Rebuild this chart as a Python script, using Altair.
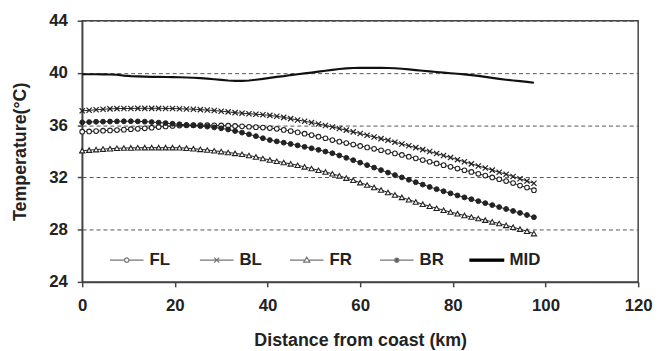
import altair as alt
import pandas as pd

distance_km = [0, 1.5, 3, 4.5, 6, 7.5, 9, 10.5, 12, 13.5, 15, 16.5, 18, 19.5, 21, 22.5,
               24, 25.5, 27, 28.5, 30, 31.5, 33, 34.5, 36, 37.5, 39, 40.5, 42, 43.5, 45,
               46.5, 48, 49.5, 51, 52.5, 54, 55.5, 57, 58.5, 60, 61.5, 63, 64.5, 66, 67.5,
               69, 70.5, 72, 73.5, 75, 76.5, 78, 79.5, 81, 82.5, 84, 85.5, 87, 88.5, 90,
               91.5, 93, 94.5, 96, 97.5]

fl = [35.50, 35.52, 35.55, 35.58, 35.60, 35.63, 35.66, 35.69, 35.72, 35.76, 35.81, 35.86,
      35.90, 35.94, 35.97, 35.99, 36.00, 36.00, 36.00, 35.99, 35.98, 35.96, 35.94, 35.91,
      35.88, 35.85, 35.82, 35.78, 35.72, 35.64, 35.55, 35.45, 35.35, 35.24, 35.12, 35.00,
      34.86, 34.74, 34.63, 34.52, 34.41, 34.30, 34.19, 34.08, 33.96, 33.84, 33.72, 33.59,
      33.46, 33.33, 33.20, 33.07, 32.94, 32.81, 32.68, 32.55, 32.42, 32.28, 32.14, 32.00,
      31.86, 31.72, 31.57, 31.38, 31.22, 31.02]

bl = [37.10, 37.14, 37.18, 37.22, 37.25, 37.27, 37.28, 37.28, 37.29, 37.29, 37.29, 37.29,
      37.28, 37.28, 37.26, 37.24, 37.22, 37.19, 37.16, 37.12, 37.07, 37.02, 36.96, 36.92,
      36.88, 36.84, 36.80, 36.75, 36.68, 36.60, 36.50, 36.40, 36.30, 36.20, 36.09, 35.98,
      35.86, 35.74, 35.62, 35.49, 35.36, 35.23, 35.10, 34.97, 34.84, 34.70, 34.56, 34.42,
      34.28, 34.13, 33.98, 33.83, 33.68, 33.52, 33.36, 33.20, 33.04, 32.88, 32.72, 32.56,
      32.40, 32.24, 32.07, 31.90, 31.72, 31.55]

fr = [34.05, 34.09, 34.13, 34.17, 34.20, 34.23, 34.25, 34.26, 34.27, 34.28, 34.28, 34.28,
      34.28, 34.28, 34.27, 34.24, 34.20, 34.15, 34.10, 34.04, 33.98, 33.91, 33.84, 33.77,
      33.68, 33.57, 33.45, 33.34, 33.24, 33.14, 33.04, 32.93, 32.81, 32.68, 32.55, 32.42,
      32.28, 32.12, 31.95, 31.78, 31.60, 31.42, 31.23, 31.04, 30.85, 30.66, 30.47, 30.29,
      30.12, 29.95, 29.79, 29.64, 29.49, 29.35, 29.22, 29.09, 28.97, 28.85, 28.73, 28.60,
      28.47, 28.33, 28.19, 28.04, 27.88, 27.70]

br = [36.22, 36.24, 36.26, 36.27, 36.28, 36.29, 36.30, 36.30, 36.29, 36.27, 36.24, 36.20,
      36.16, 36.11, 36.07, 36.02, 35.98, 35.93, 35.89, 35.83, 35.76, 35.67, 35.55, 35.43,
      35.30, 35.16, 35.00, 34.86, 34.76, 34.66, 34.56, 34.45, 34.34, 34.23, 34.11, 33.98,
      33.85, 33.68, 33.50, 33.32, 33.13, 32.94, 32.75, 32.56, 32.37, 32.18, 32.00, 31.82,
      31.63, 31.45, 31.27, 31.10, 30.94, 30.78, 30.62, 30.47, 30.33, 30.18, 30.03, 29.88,
      29.73, 29.58, 29.43, 29.28, 29.12, 28.95]

mid = [39.90, 39.90, 39.90, 39.89, 39.88, 39.86, 39.80, 39.76, 39.74, 39.72, 39.70, 39.70,
       39.69, 39.68, 39.67, 39.65, 39.63, 39.60, 39.57, 39.52, 39.47, 39.42, 39.40, 39.40,
       39.42, 39.48, 39.55, 39.62, 39.70, 39.76, 39.84, 39.90, 39.97, 40.03, 40.10, 40.17,
       40.24, 40.30, 40.35, 40.38, 40.39, 40.39, 40.39, 40.39, 40.38, 40.36, 40.32, 40.27,
       40.22, 40.17, 40.12, 40.07, 40.03, 39.98, 39.94, 39.89, 39.84, 39.78, 39.70, 39.62,
       39.55, 39.48, 39.42, 39.37, 39.32, 39.25]

series_names = ["FL", "BL", "FR", "BR", "MID"]
x_ticks = [0, 20, 40, 60, 80, 100, 120]
y_ticks = [24, 28, 32, 36, 40, 44]

rows = []
for name, vals in zip(series_names, [fl, bl, fr, br, mid]):
    for d, v in zip(distance_km, vals):
        rows.append({"km": d, "temp": v, "series": name})
df = pd.DataFrame(rows)

FONT = "Liberation Sans"
INK = "#222222"

x_enc = alt.X("km:Q", scale=alt.Scale(domain=[0, 120], nice=False),
              axis=alt.Axis(values=x_ticks, title="Distance from coast (km)", grid=False,
                            labelFlush=False, labelPadding=11, titleY=50, titleBaseline="top"))
y_enc = alt.Y("temp:Q", scale=alt.Scale(domain=[24, 44], nice=False, zero=False),
              axis=alt.Axis(values=y_ticks, title="Temperature(\u00b0C)", grid=True,
                            gridDash=[4, 3], gridColor="#555555", gridWidth=1,
                            labelFlush=False, labelPadding=10, titleX=-53))

base = alt.Chart(df).encode(x=x_enc, y=y_enc)

lines4 = base.transform_filter(alt.datum.series != "MID").mark_line(
    color=INK, strokeWidth=1).encode(detail="series:N")
mid_line = base.transform_filter(alt.datum.series == "MID").mark_line(
    color="#111111", strokeWidth=2.2)

pts_fl = base.transform_filter(alt.datum.series == "FL").mark_point(
    shape="circle", size=22, filled=True, fill="white", stroke=INK, strokeWidth=1.1, opacity=1)
pts_bl = base.transform_filter(alt.datum.series == "BL").mark_point(
    shape="M-1,-1L1,1M-1,1L1,-1", size=28, filled=False, stroke=INK, strokeWidth=1.2, opacity=1)
pts_fr = base.transform_filter(alt.datum.series == "FR").mark_point(
    shape="triangle-up", size=28, filled=True, fill="white", stroke=INK, strokeWidth=1.1, opacity=1)
pts_br = base.transform_filter(alt.datum.series == "BR").mark_point(
    shape="circle", size=24, filled=True, fill=INK, stroke=INK, strokeWidth=1, opacity=1)

legend_shapes = [
    "M-1,0H-0.13M0.13,0H1M0.13,0A0.13,0.13 0 1 1 -0.13,0A0.13,0.13 0 1 1 0.13,0Z",
    "M-1,0H1M-0.15,-0.15L0.15,0.15M-0.15,0.15L0.15,-0.15",
    "M-1,0H-0.12M0.12,0H1M0,-0.17L0.18,0.12L-0.18,0.12Z",
    "M-1,0H1M0.12,0A0.12,0.12 0 1 1 -0.12,0A0.12,0.12 0 1 1 0.12,0Z",
    "M-1,-0.06H1V0.06H-1Z",
]
legend_fill = ["white", "white", "white", "#333333", "black"]
legend_stroke = ["#777777", "#777777", "#777777", "#777777", "black"]

leg = alt.Legend(title=None, orient="none", legendX=27, legendY=224, direction="horizontal",
                 symbolSize=1156, symbolStrokeWidth=1.3, labelFont=FONT, labelFontSize=17,
                 labelFontWeight="bold", labelColor=INK, labelOffset=5, columnPadding=16,
                 gridAlign="all", padding=0, symbolOpacity=1)

legend_layer = alt.Chart(df).transform_filter("false").mark_point(
    filled=True, size=1156, opacity=1).encode(
    x="km:Q", y="temp:Q",
    shape=alt.Shape("series:N", scale=alt.Scale(domain=series_names, range=legend_shapes), legend=leg),
    fill=alt.Fill("series:N", scale=alt.Scale(domain=series_names, range=legend_fill), legend=leg),
    stroke=alt.Stroke("series:N", scale=alt.Scale(domain=series_names, range=legend_stroke), legend=leg),
)

chart = alt.layer(lines4, mid_line, pts_fl, pts_bl, pts_fr, pts_br, legend_layer).properties(
    width=562, height=264,
    autosize=alt.AutoSizeParams(type="none"),
    padding={"left": 75, "top": 11, "right": 16, "bottom": 68},
).configure_view(stroke="#444444", strokeWidth=1.5).configure_axis(
    labelFont=FONT, labelFontSize=17, labelFontWeight="bold", labelColor=INK,
    titleFont=FONT, titleFontSize=18, titleFontWeight="bold", titleColor=INK,
    domainColor="#444444", domainWidth=1.5, tickColor="#444444", tickWidth=1.5, tickSize=5,
)

chart.save("out.html", embed_options={"renderer": "svg", "actions": False})
